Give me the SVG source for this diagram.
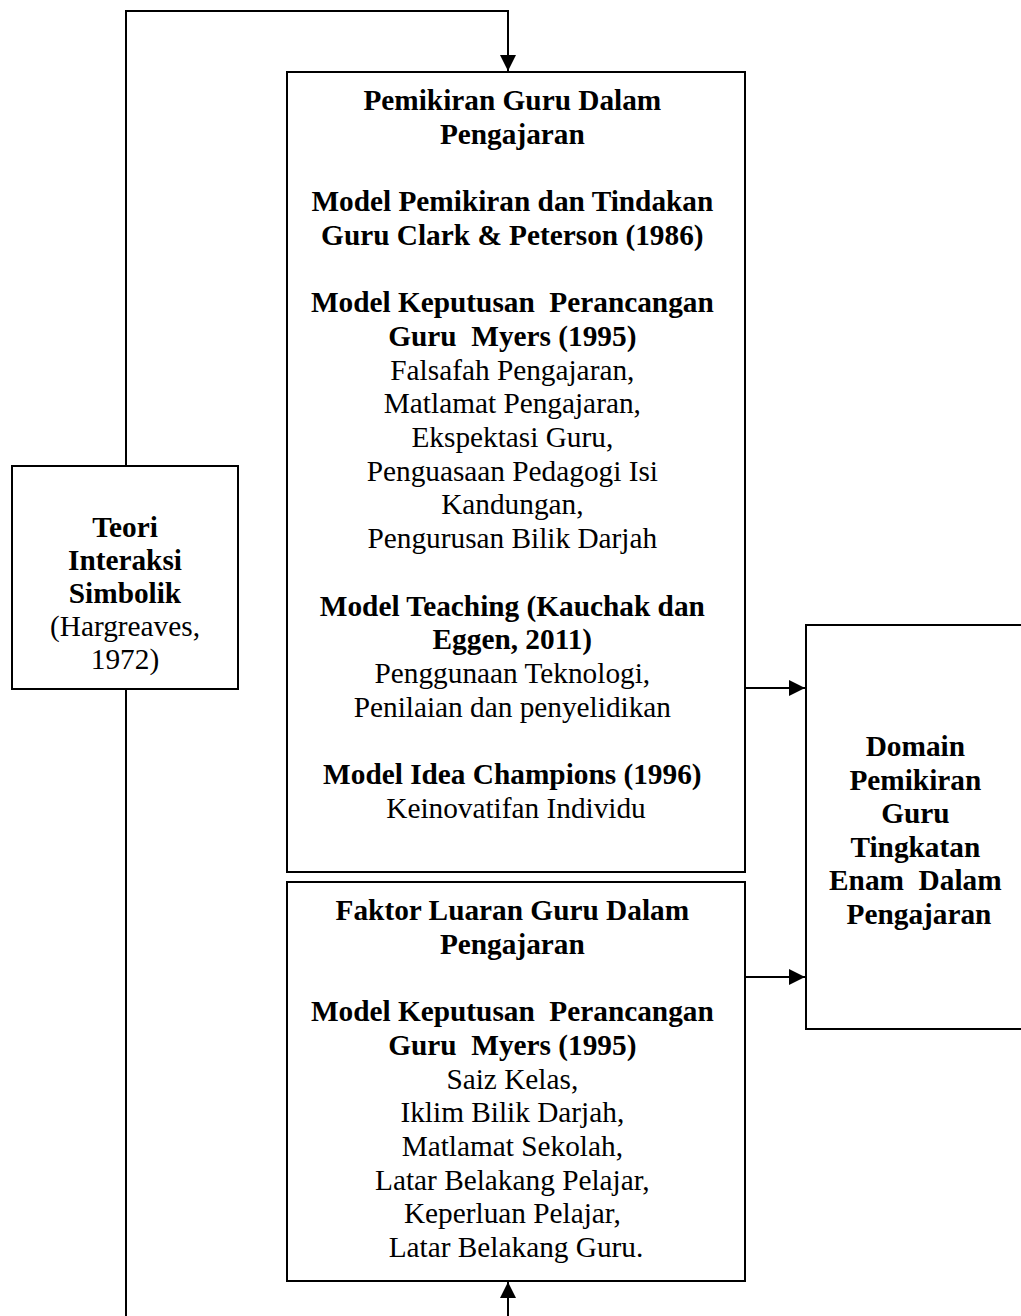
<svg xmlns="http://www.w3.org/2000/svg" width="1021" height="1316" viewBox="0 0 1021 1316">
<style>
.box{fill:#fff;stroke:#000;stroke-width:2}
.ln{fill:none;stroke:#000;stroke-width:2}
text{font-family:"Liberation Serif","Times New Roman",serif;font-size:29.3px;fill:#000;text-anchor:middle}
.b{font-weight:bold}
</style>
<defs>
<marker id="ah" markerUnits="userSpaceOnUse" markerWidth="16" markerHeight="16" refX="16" refY="8" orient="auto">
<path d="M0,0 L16,8 L0,16 Z" fill="#000"/>
</marker>
</defs>
<rect width="1021" height="1316" fill="#fff"/>
<g id="connectors">
<path class="ln" d="M126,466 V11 H508 V71" marker-end="url(#ah)"/>
<path class="ln" d="M126,689 V1316"/>
<path class="ln" d="M745,688 H805" marker-end="url(#ah)"/>
<path class="ln" d="M745,977 H805" marker-end="url(#ah)"/>
<path class="ln" d="M508,1316 V1282" marker-end="url(#ah)"/>
</g>
<g id="node-teori">
<rect class="box" x="12" y="466" width="226" height="223"/>
<text x="125" y="537"><tspan class="b" x="125">Teori</tspan><tspan class="b" x="125" dy="33">Interaksi</tspan><tspan class="b" x="125" dy="33">Simbolik</tspan><tspan x="125" dy="33">(Hargreaves,</tspan><tspan x="125" dy="33">1972)</tspan></text>
</g>
<g id="node-pemikiran">
<rect class="box" x="287" y="72" width="458" height="800"/>
<text x="516" y="110">
<tspan class="b" x="516">Pemikiran Guru Dalam</tspan>
<tspan class="b" x="516" dy="33.7">Pengajaran</tspan>
<tspan class="b" x="516" dy="67.4">Model Pemikiran dan Tindakan</tspan>
<tspan class="b" x="516" dy="33.7">Guru Clark &amp; Peterson (1986)</tspan>
<tspan class="b" x="516" dy="67.4" xml:space="preserve">Model Keputusan  Perancangan</tspan>
<tspan class="b" x="516" dy="33.7" xml:space="preserve">Guru  Myers (1995)</tspan>
<tspan x="516" dy="33.7">Falsafah Pengajaran,</tspan>
<tspan x="516" dy="33.7">Matlamat Pengajaran,</tspan>
<tspan x="516" dy="33.7">Ekspektasi Guru,</tspan>
<tspan x="516" dy="33.7">Penguasaan Pedagogi Isi</tspan>
<tspan x="516" dy="33.7">Kandungan,</tspan>
<tspan x="516" dy="33.7">Pengurusan Bilik Darjah</tspan>
<tspan class="b" x="516" dy="67.4">Model Teaching (Kauchak dan</tspan>
<tspan class="b" x="516" dy="33.7">Eggen, 2011)</tspan>
<tspan x="516" dy="33.7">Penggunaan Teknologi,</tspan>
<tspan x="516" dy="33.7">Penilaian dan penyelidikan</tspan>
<tspan class="b" x="516" dy="67.4">Model Idea Champions (1996)</tspan>
<tspan x="516" dy="33.7">Keinovatifan Individu</tspan>
</text>
</g>
<g id="node-faktor">
<rect class="box" x="287" y="882" width="458" height="399"/>
<text x="516" y="920">
<tspan class="b" x="516">Faktor Luaran Guru Dalam</tspan>
<tspan class="b" x="516" dy="33.7">Pengajaran</tspan>
<tspan class="b" x="516" dy="67.4" xml:space="preserve">Model Keputusan  Perancangan</tspan>
<tspan class="b" x="516" dy="33.7" xml:space="preserve">Guru  Myers (1995)</tspan>
<tspan x="516" dy="33.7">Saiz Kelas,</tspan>
<tspan x="516" dy="33.7">Iklim Bilik Darjah,</tspan>
<tspan x="516" dy="33.7">Matlamat Sekolah,</tspan>
<tspan x="516" dy="33.7">Latar Belakang Pelajar,</tspan>
<tspan x="516" dy="33.7">Keperluan Pelajar,</tspan>
<tspan x="516" dy="33.7">Latar Belakang Guru.</tspan>
</text>
</g>
<g id="node-domain">
<rect class="box" x="806" y="625" width="226" height="404"/>
<text class="b" x="919" y="756">
<tspan x="919">Domain</tspan>
<tspan x="919" dy="33.5">Pemikiran</tspan>
<tspan x="919" dy="33.5">Guru</tspan>
<tspan x="919" dy="33.5">Tingkatan</tspan>
<tspan x="919" dy="33.5" xml:space="preserve">Enam  Dalam</tspan>
<tspan x="919" dy="33.5">Pengajaran</tspan>
</text>
</g>
</svg>
